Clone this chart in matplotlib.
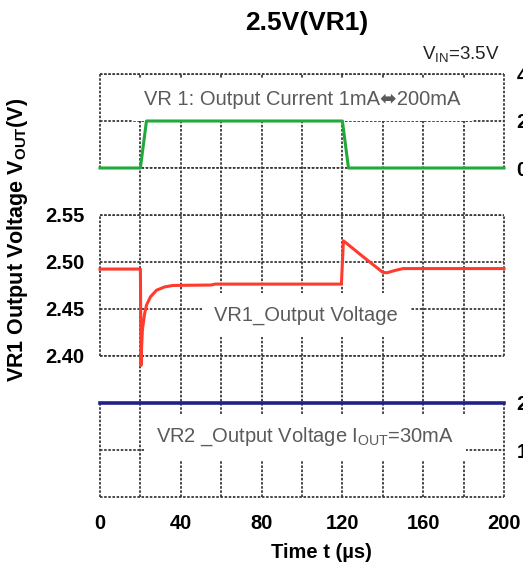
import matplotlib
matplotlib.use('Agg')
import matplotlib.pyplot as plt

plt.rcParams['font.family'] = ['Liberation Sans', 'DejaVu Sans']
plt.rcParams['mathtext.fontset'] = 'custom'
plt.rcParams['mathtext.rm'] = 'Liberation Sans'
plt.rcParams['mathtext.bf'] = 'Liberation Sans:bold'

# ---------- Data ----------
# VR1 output current step (x100 mA)
t_current = [0, 20, 23, 120, 123, 200]
i_current = [0, 0, 2, 2, 0, 0]

# VR1 output voltage (V)
t_vr1 = [0, 20, 20.3, 20.6, 21, 22, 23, 25, 28, 32, 36, 40, 55, 57, 80, 100,
         119.5, 120.5, 122, 130, 140, 142, 146, 150, 170, 200]
v_vr1 = [2.4925, 2.4925, 2.390, 2.410, 2.428, 2.444, 2.454, 2.463, 2.470, 2.4735,
         2.4750, 2.4752, 2.4755, 2.4765, 2.4765, 2.4765,
         2.4765, 2.5225, 2.5200, 2.5060, 2.4890, 2.4885, 2.4910, 2.4930, 2.4930, 2.4930]

# VR2 output voltage (V), Iout = 30mA
t_vr2 = [0, 200]
v_vr2 = [2.0, 2.0]

time_ticks = [0, 40, 80, 120, 160, 200]
grid_ticks = [0, 20, 40, 60, 80, 100, 120, 140, 160, 180, 200]
vr1_ticks = [2.40, 2.45, 2.50, 2.55]
current_ticks = [0, 2, 4]
vr2_ticks = [1, 2]

# ---------- Layout (pixels) ----------
W, H = 523, 572
x0, x1 = 100, 504


def box(top, bottom):
    return [x0 / W, 1 - bottom / H, (x1 - x0) / W, (bottom - top) / H]


grid_c = '#3a3a3a'
dots = (0, (1.4, 0.9))
gray_txt = '#5a5a5a'
tbox = dict(boxstyle='square,pad=0.6', fc='white', ec='none')

fig = plt.figure(figsize=(W / 100, H / 100), dpi=100)

# background: vertical grid lines through the whole height
bg = fig.add_axes(box(74, 497))
bg.set_xlim(0, 200)
bg.set_ylim(0, 1)
bg.set_xticks(grid_ticks[1:-1])
bg.set_yticks([])
bg.grid(True, axis='x', color=grid_c, linestyle=dots, linewidth=1.3)
bg.tick_params(length=0, labelbottom=False)
for s in bg.spines.values():
    s.set_visible(False)
bg.patch.set_visible(False)


def section(rect, ylim, yticks):
    ax = fig.add_axes(rect)
    ax.patch.set_visible(False)
    ax.set_xlim(0, 200)
    ax.set_ylim(*ylim)
    ax.set_xticks(time_ticks)
    ax.set_yticks(yticks)
    ax.grid(True, axis='y', color=grid_c, linestyle=dots, linewidth=1.3)
    ax.tick_params(length=0, labelsize=14.5, labelbottom=False)
    for s in ax.spines.values():
        s.set_linestyle(dots)
        s.set_capstyle('butt')
        s.set_color(grid_c)
        s.set_linewidth(1.3)
    return ax


# ---------- Top: output current ----------
ax_i = section(box(74, 168), (0, 4), current_ticks)
ax_i.yaxis.tick_right()
ax_i.tick_params(axis='y', pad=9)
for lab in ax_i.get_yticklabels():
    lab.set_fontweight('bold')
ax_i.plot(t_current, i_current, color='#22a93c', linewidth=2.2, zorder=5,
          clip_on=False)
ax_i.text(0.5, 0.73, 'VR 1: Output Current 1mA⬌200mA', transform=ax_i.transAxes,
          ha='center', va='center', fontsize=14.5, color=gray_txt, bbox=tbox)

# ---------- Middle: VR1 output voltage ----------
ax_v = section(box(215, 356), (2.40, 2.55), vr1_ticks)
ax_v.yaxis.set_major_formatter(plt.FormatStrFormatter('%.2f'))
ax_v.tick_params(axis='y', pad=11)
for lab in ax_v.get_yticklabels():
    lab.set_fontweight('bold')
ax_v.plot(t_vr1, v_vr1, color='#ff3b2e', linewidth=2.2, zorder=5, clip_on=False)
ax_v.text(0.51, 0.29, 'VR1_Output Voltage', transform=ax_v.transAxes,
          ha='center', va='center', fontsize=14.5, color=gray_txt, bbox=tbox)

# ---------- Bottom: VR2 output voltage ----------
ax_b = section(box(403, 497), (0, 2), vr2_ticks)
ax_b.yaxis.tick_right()
ax_b.tick_params(axis='y', pad=9)
ax_b.tick_params(axis='x', labelbottom=True, pad=12)
for lab in ax_b.get_yticklabels() + ax_b.get_xticklabels():
    lab.set_fontweight('bold')
ax_b.plot(t_vr2, v_vr2, color='#20208a', linewidth=2.6, zorder=5, clip_on=False)
ax_b.text(0.507, 0.64, r'VR2 _Output Voltage I$_{\rm OUT}$=30mA',
          transform=ax_b.transAxes, ha='center', va='center', fontsize=14.5,
          color=gray_txt, bbox=tbox)

# ---------- Labels ----------
fig.text(307 / W, 1 - 23 / H, '2.5V(VR1)', ha='center', va='center',
         fontsize=19, fontweight='bold')
fig.text(500 / W, 1 - 55 / H, r'V$_{\rm IN}$=3.5V', ha='right', va='center',
         fontsize=13.5, color='#222222')
fig.text(321 / W, 1 - 553 / H, 'Time t (µs)', ha='center', va='center',
         fontsize=14.5, fontweight='bold')
fig.text(18 / W, 1 - 240 / H, r'VR1 Output Voltage V$_{\mathbf{OUT}}$(V)',
         ha='center', va='center', rotation=90, fontsize=15.5, fontweight='bold')

fig.savefig('out.png', dpi=100)
